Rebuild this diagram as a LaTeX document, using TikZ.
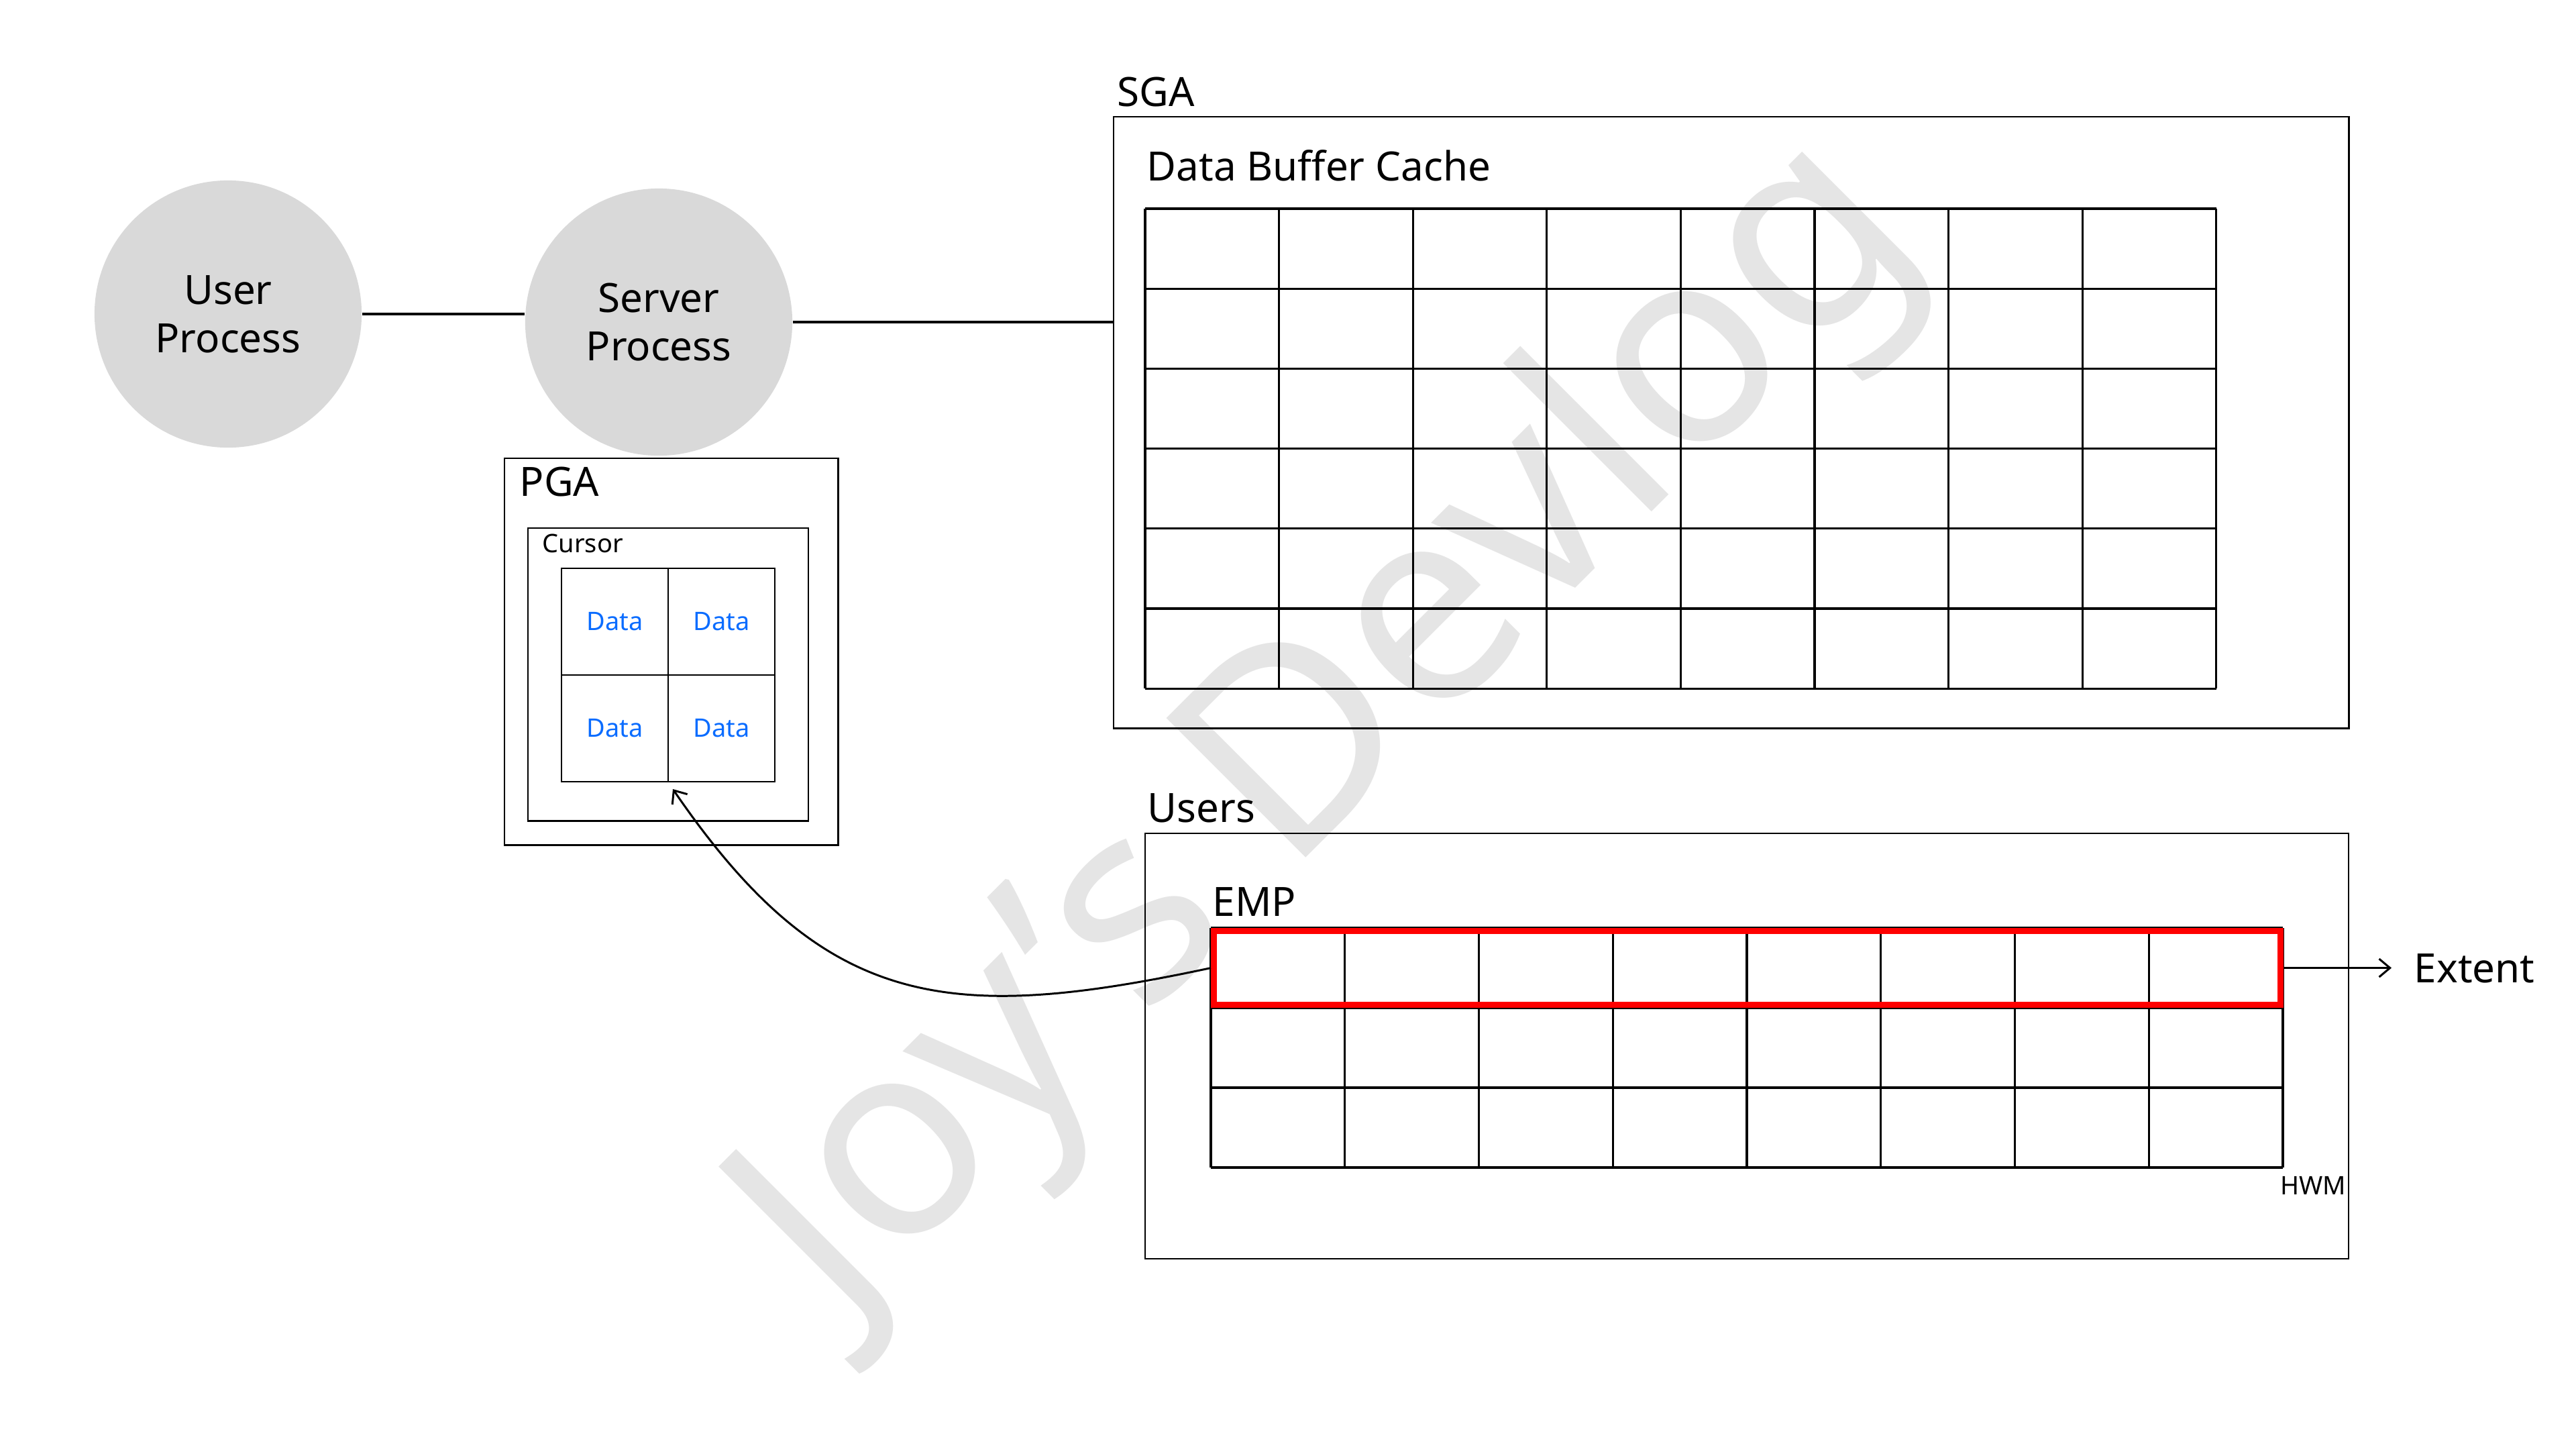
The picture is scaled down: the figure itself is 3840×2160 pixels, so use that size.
\documentclass[tikz,border=0pt]{standalone}
\usepackage{fontspec}
\setmainfont{Noto Sans}
\usetikzlibrary{arrows.meta,positioning}

\definecolor{procgray}{RGB}{217,217,217}
\definecolor{datablue}{RGB}{10,108,255}
\definecolor{markgray}{RGB}{229,229,229}
\newcommand{\lblfont}{\fontsize{17.1}{20.5}\selectfont}
\newcommand{\tagfnt}{\fontsize{10.8}{13}\selectfont}

\begin{document}
\begin{tikzpicture}[x=0.01cm,y=-0.01cm,>={Straight Barb[length=4.6pt,width=7.7pt]},
  proc/.style={circle,fill=procgray,minimum size=3.98cm,inner sep=0,align=center,font=\lblfont},
  area/.style={draw,line width=0.8pt,anchor=north west,inner sep=0,outer sep=0},
  lbl/.style={anchor=base west,inner sep=0,font=\lblfont},
  tag/.style={anchor=base west,inner sep=0,font=\tagfnt},
  cell/.style={draw,line width=0.8pt,minimum size=1.59cm,inner sep=0,font=\tagfnt,text=datablue},
  gridline/.style={line width=0.9pt}]
\useasboundingbox (0,0) rectangle (3840,2160);

% watermark
\node[text=markgray,font=\fontsize{117}{117}\selectfont,rotate=45] (wm) at (1984,1090) {Joy’s Devlog};

% processes
\node[proc] (user) at (340,468) {User\\Process};
\node[proc] (server) at (982,480) {Server\\Process};

% SGA
\node[area,minimum width=18.4cm,minimum height=9.11cm] (sga) at (1660,174) {};
\node[lbl] (sgalbl) at (1665,158) {SGA};
\node[lbl] (dbclbl) at (1709,269) {Data Buffer Cache};
\foreach \c in {0,...,8} \draw[gridline] ({1707+\c*199.6},311) -- ({1707+\c*199.6},1026);
\foreach \r in {0,...,6} \draw[gridline] (1707,{311+\r*119.2}) -- (3304,{311+\r*119.2});

% PGA
\node[area,line width=0.7pt,minimum width=4.97cm,minimum height=5.76cm] (pga) at (752,683) {};
\node[lbl] (pgalbl) at (774,739) {PGA};
\node[area,line width=0.7pt,minimum width=4.18cm,minimum height=4.36cm] (cursor) at (787,787) {};
\node[tag] (cursorlbl) at (808,823) {Cursor};
\foreach \r in {1,2} \foreach \c in {1,2}
  \node[cell] (d\r\c) at ({837+159*\c-79.5},{847+159*\r-79.5}) {Data};

% Users
\node[area,line width=0.6pt,minimum width=17.93cm,minimum height=6.34cm] (users) at (1707,1242) {};
\node[lbl] (userslbl) at (1710,1225) {Users};
\node[lbl] (emplbl) at (1807,1365) {EMP};
\foreach \c in {0,...,8} \draw[gridline] ({1805+\c*199.75},1383) -- ({1805+\c*199.75},1740);
\foreach \r in {0,...,3} \draw[gridline] (1805,{1383+\r*119}) -- (3403,{1383+\r*119});
\node[draw=red,line width=2.56pt,inner sep=0,anchor=north west,minimum width=15.89cm,minimum height=1.1cm] (emprow) at (1805,1383) {};
\node[lbl] (extent) at (3598,1464) {Extent};
\node[tag,anchor=base east] (hwm) at (3498,1780) {HWM};

% connectors
\coordinate (tip) at (1003,1176);
\draw[line width=1pt] (user.east) -- (server.west |- user.east);
\draw[line width=1pt] (server.east) -- (server.east -| sga.west);
\draw[->,line width=0.85pt,shorten >=0.33cm] (emprow.east) -- (extent.west |- emprow.east);
\draw[->,line width=0.85pt] (emprow.west) .. controls (1414,1526) and (1229,1506) .. (tip);
\end{tikzpicture}
\end{document}
